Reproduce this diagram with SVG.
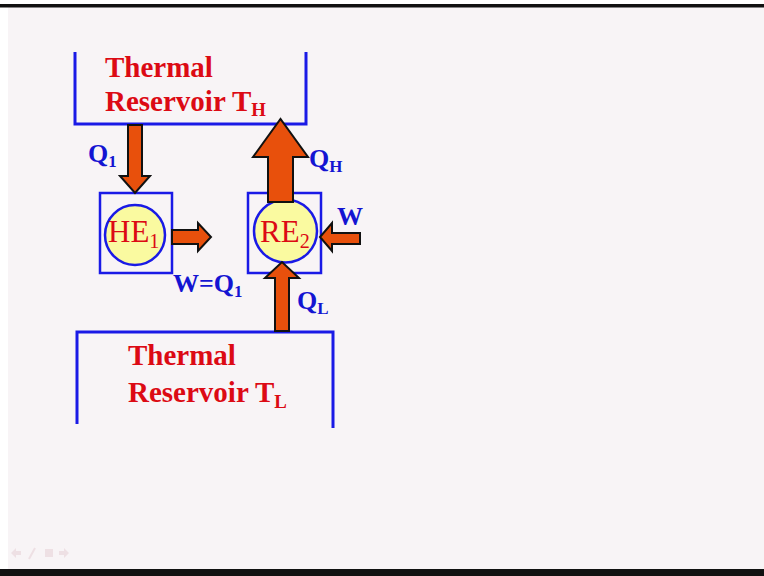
<svg xmlns="http://www.w3.org/2000/svg" width="764" height="576" viewBox="0 0 764 576">
<defs>
<style>
.bg{fill:#f8f4f6}
.res{fill:none;stroke:#1a1ae6;stroke-width:3}
.box{fill:none;stroke:#1a1ae6;stroke-width:2.5}
.eng{fill:#fafaa0;stroke:#1a1ae6;stroke-width:2.5}
.arr{fill:#e8500c;stroke:#111;stroke-width:2;stroke-linejoin:miter}
.rt{font-family:"Liberation Serif","Times New Roman",serif;font-weight:bold;font-size:29px;fill:#dc0a14}
.et{font-family:"Liberation Serif","Times New Roman",serif;font-size:31px;fill:#dc0a14}
.bt{font-family:"Liberation Serif","Times New Roman",serif;font-weight:bold;font-size:26px;fill:#1414d2}
.sub{font-size:65%}
.nav{fill:#eee0e4}
</style>
</defs>
<rect x="0" y="0" width="764" height="576" fill="#ffffff"/>
<rect class="bg" x="8" y="7" width="756" height="562"/>
<rect x="0" y="4" width="764" height="3.5" fill="#111"/>
<rect x="0" y="569" width="764" height="7" fill="#111"/>

<g id="reservoir-high">
<polyline class="res" points="75,52 75,124 306,124 306,52"/>
<text class="rt" x="105" y="77">Thermal</text>
<text class="rt" x="105" y="111">Reservoir T<tspan class="sub" dy="5">H</tspan></text>
</g>

<g id="reservoir-low">
<polyline class="res" points="77,424 77,332 333,332 333,428"/>
<text class="rt" x="128" y="365">Thermal</text>
<text class="rt" x="128" y="402">Reservoir T<tspan class="sub" dy="6">L</tspan></text>
</g>

<g id="HE1">
<rect class="box" x="100" y="193" width="72" height="80"/>
<ellipse class="eng" cx="135" cy="235" rx="30" ry="30"/>
<text class="et" x="108" y="242">HE<tspan class="sub" dy="6">1</tspan></text>
</g>

<g id="RE2">
<rect class="box" x="248" y="193" width="73" height="80"/>
<ellipse class="eng" cx="285.5" cy="231" rx="31.5" ry="31.5"/>
<text class="et" x="260" y="242">RE<tspan class="sub" dy="6">2</tspan></text>
</g>

<g id="connectors">
<polygon class="arr" points="128,125 142,125 142,176 150,176 135,193 120,176 128,176"/>
<polygon class="arr" points="172,230 198,230 198,223 211,237 198,251 198,244 172,244"/>
<polygon class="arr" points="268,202 293,202 293,157 308,157 280.5,119 253,157 268,157"/>
<polygon class="arr" points="360,233 332,233 332,223 320,237 332,251 332,244 360,244"/>
<polygon class="arr" points="275,331 289,331 289,278 299,278 282,262 265,278 275,278"/>
</g>

<g id="labels">
<text class="bt" x="88" y="162">Q<tspan class="sub" dy="5">1</tspan></text>
<text class="bt" x="309" y="167">Q<tspan class="sub" dy="5">H</tspan></text>
<text class="bt" x="337" y="225">W</text>
<text class="bt" x="173" y="292">W=Q<tspan class="sub" dy="5">1</tspan></text>
<text class="bt" x="297" y="309">Q<tspan class="sub" dy="5">L</tspan></text>
</g>

<g id="nav">
<polygon class="nav" points="11,553 16,548 16,551 21,551 21,555 16,555 16,558"/>
<line x1="29" y1="559" x2="35" y2="548" stroke="#eee0e4" stroke-width="2"/>
<rect class="nav" x="45" y="549" width="8" height="8"/>
<polygon class="nav" points="69,553 64,548 64,551 59,551 59,555 64,555 64,558"/>
</g>
</svg>
